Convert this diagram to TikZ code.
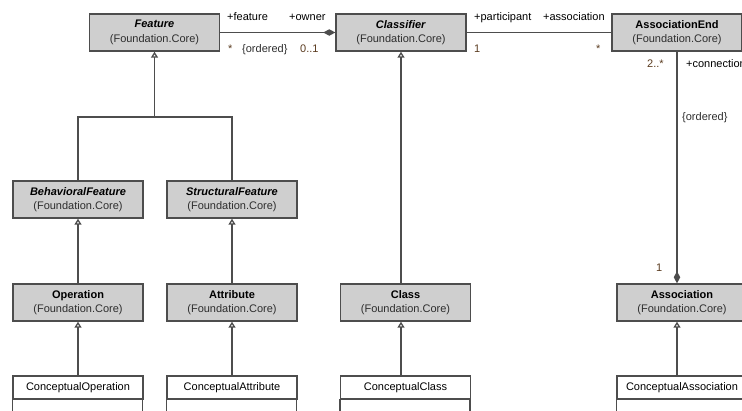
\documentclass[tikz,border=0pt]{standalone}
\usepackage{fontspec}
\setmainfont{Liberation Sans}
\usetikzlibrary{arrows.meta}
\definecolor{boxfill}{HTML}{CFCFCF}
\definecolor{edgegray}{HTML}{4D4D4D}
\definecolor{multcol}{HTML}{5A3B1F}
\definecolor{pkgcol}{HTML}{2E2E2E}
\newcommand{\pkg}{\\{\color{pkgcol}(Foundation.Core)}}
\begin{document}
\begin{tikzpicture}[x=1pt,y=-1pt,
  cls/.style={draw=edgegray, line width=1.4pt, fill=boxfill,
    minimum width=130pt, minimum height=37pt, inner sep=0pt,
    align=center, font=\fontsize{11}{14.5}\selectfont},
  ccls/.style={draw=edgegray, line width=1.4pt, fill=white,
    minimum width=130pt, minimum height=23pt, inner sep=0pt,
    font=\fontsize{11}{13}\selectfont},
  gen/.style={draw=edgegray, line width=1.3pt,
    -{Triangle[open,length=6pt,width=7pt]}},
  comp/.style={draw=edgegray, line width=1.3pt,
    -{Diamond[length=12pt,width=6.5pt]}},
  assoc/.style={draw=edgegray, line width=1.3pt},
  role/.style={font=\fontsize{11}{13}\selectfont, inner sep=0pt, anchor=base west},
  mul/.style={role, text=multcol},
]
\useasboundingbox (0,0) rectangle (742,410);
\clip (0,0) rectangle (742,410);

% Foundation.Core classes
\node[cls] (feature)    at (154.5,32.5) {\textbf{\textit{Feature}}\pkg};
\node[cls] (classifier) at (401,32.5)   {\textbf{\textit{Classifier}}\pkg};
\node[cls] (assocend)   at (677,32.5)   {\textbf{AssociationEnd}\pkg};
\node[cls] (behav)      at (78,199.5)   {\textbf{\textit{BehavioralFeature}}\pkg};
\node[cls] (struct)     at (232,199.5)  {\textbf{\textit{StructuralFeature}}\pkg};
\node[cls] (operation)  at (78,302.5)   {\textbf{Operation}\pkg};
\node[cls] (attribute)  at (232,302.5)  {\textbf{Attribute}\pkg};
\node[cls] (class)      at (405.5,302.5){\textbf{Class}\pkg};
\node[cls] (assoc)      at (682,302.5)  {\textbf{Association}\pkg};

% Conceptual classes (name compartment + empty compartment)
\node[ccls] (cop)    at (78,387.5)    {ConceptualOperation};
\node[ccls] (catt)   at (232,387.5)   {ConceptualAttribute};
\node[ccls] (ccls)   at (405.5,387.5) {ConceptualClass};
\node[ccls] (cassoc) at (682,387.5)   {ConceptualAssociation};
\foreach \n in {cop,catt,ccls,cassoc}
  \draw[draw=edgegray, line width=1.4pt, fill=white]
    (\n.south west) rectangle ++(130,30);

% generalisations
\coordinate (fj) at (feature.south |- 0,117);
\draw[assoc] (behav.north) |- (fj) -| (struct.north);
\draw[gen] (fj) -- (feature.south);
\draw[gen] (operation.north) -- (behav.south);
\draw[gen] (attribute.north) -- (struct.south);
\draw[gen] (cop.north) -- (operation.south);
\draw[gen] (catt.north) -- (attribute.south);
\draw[gen] (classifier.south |- class.north) -- (classifier.south);
\draw[gen] (classifier.south |- ccls.north) -- (classifier.south |- class.south);
\draw[gen] (assocend.south |- cassoc.north) -- (assocend.south |- assoc.south);

% associations
\draw[comp] (feature.east) -- (classifier.west);
\draw[assoc] (classifier.east) -- (assocend.west);
\draw[comp] (assocend.south) -- (assocend.south |- assoc.north);

% association end labels
\node[role] (lfeat)  at (227,20)  {+feature};
\node[role] (lown)   at (289,20)  {+owner};
\node[mul]  (mstar1) at (228,52)  {*};
\node[role, text=pkgcol] (ord1) at (242,52) {\{ordered\}};
\node[mul]  (m01)    at (300,52)  {0..1};
\node[role] (lpart)  at (474,20)  {+participant};
\node[role] (lasc)   at (543,20)  {+association};
\node[mul]  (m1a)    at (474,52)  {1};
\node[mul]  (mstar2) at (596,52)  {*};
\node[mul]  (m2s)    at (647,67)  {2..*};
\node[role] (lconn)  at (686,67)  {+connection};
\node[role, text=pkgcol] (ord2) at (682,120) {\{ordered\}};
\node[mul]  (m1b)    at (656,271) {1};
\end{tikzpicture}
\end{document}
